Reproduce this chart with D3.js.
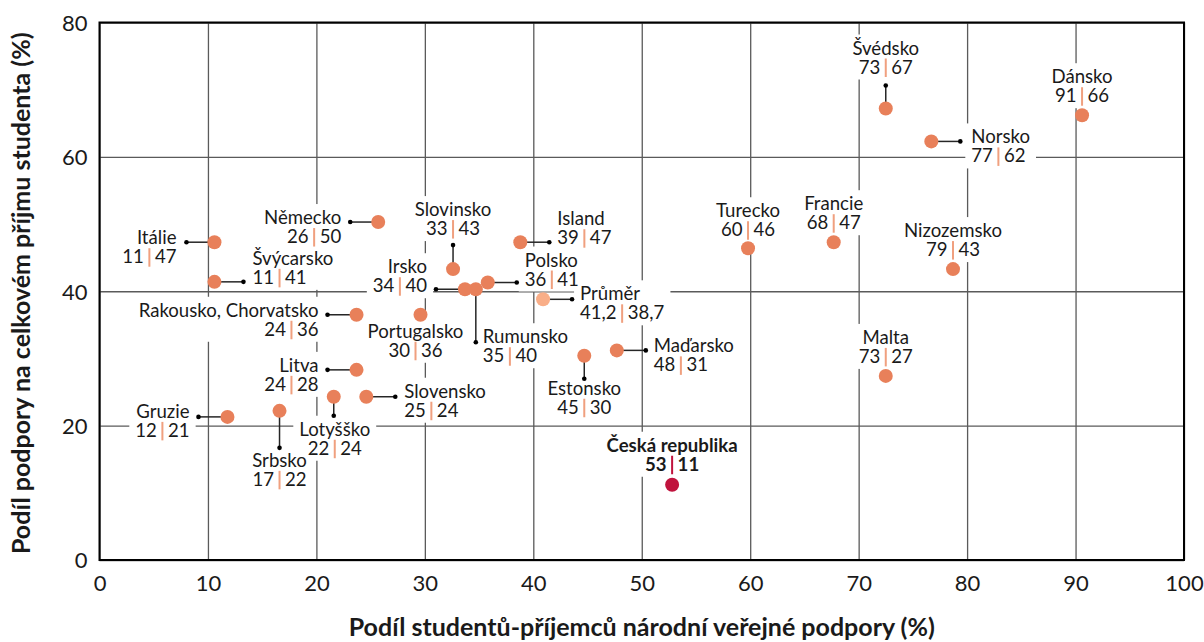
<!DOCTYPE html>
<html>
<head>
<meta charset="utf-8">
<script src="https://cdnjs.cloudflare.com/ajax/libs/d3/7.8.5/d3.min.js"></script>
<style>
  body { margin: 0; background: #fff; }
  text { font-family: Lato, "DejaVu Sans", sans-serif; fill: #1a1a1a; }
</style>
</head>
<body>
<div id="chart"></div>
<script>

// The svg
var width = 1204;
var height = 642;

// data: share of students receiving public support (x), share of support in student income (y)
var countries = ["Švédsko", "Dánsko", "Norsko", "Turecko", "Francie", "Nizozemsko", "Malta",
    "Česká republika", "Maďarsko", "Estonsko", "Průměr", "Island", "Polsko", "Rumunsko", "Irsko",
    "Slovinsko", "Portugalsko", "Německo", "Itálie", "Švýcarsko", "Rakousko, Chorvatsko", "Litva",
    "Slovensko", "Lotyšško", "Srbsko", "Gruzie"];
var studentShare = [72.5, 90.6, 76.7, 59.8, 67.7, 78.7, 72.5,
    52.8, 47.7, 44.7, 40.9, 38.8, 35.8, 34.7, 33.7,
    32.6, 29.6, 25.7, 10.6, 10.6, 23.7, 23.7,
    24.6, 21.6, 16.6, 11.8];
var incomeShare = [67.2, 66.2, 62.3, 46.4, 47.3, 43.3, 27.4,
    11.2, 31.2, 30.4, 38.8, 47.3, 41.3, 40.3, 40.3,
    43.3, 36.5, 50.3, 47.3, 41.4, 36.5, 28.3,
    24.3, 24.3, 22.2, 21.3];
var studentText = ["73", "91", "77", "60", "68", "79", "73",
    "53", "48", "45", "41,2", "39", "36", "35", "34",
    "33", "30", "26", "11", "11", "24", "24",
    "25", "22", "17", "12"];
var incomeText = ["67", "66", "62", "46", "47", "43", "27",
    "11", "31", "30", "38,7", "47", "41", "40", "40",
    "43", "36", "50", "47", "41", "36", "28",
    "24", "24", "22", "21"];
var xTicks = [0, 10, 20, 30, 40, 50, 60, 70, 80, 90, 100];
var yTicks = [0, 20, 40, 60, 80];

// label placement (pixels from the dot): anchor dot a, text t, side
var layout = {
    "Švédsko": { side: "middle", a: [0, -23], t: [0, -54] },
    "Dánsko": { side: "middle", a: null, t: [0, -32] },
    "Norsko": { side: "start", a: [29, 0], t: [40, 2] },
    "Turecko": { side: "middle", a: null, t: [0, -31] },
    "Francie": { side: "middle", a: null, t: [0, -32] },
    "Nizozemsko": { side: "middle", a: null, t: [0, -32] },
    "Malta": { side: "middle", a: null, t: [0, -32] },
    "Česká republika": { side: "middle", a: null, t: [0, -33] },
    "Maďarsko": { side: "start", a: [29, 0], t: [37, 2] },
    "Estonsko": { side: "middle", a: [0, 23], t: [0, 39] },
    "Průměr": { side: "start", a: [29, 0], t: [37, 1] },
    "Island": { side: "start", a: [29, 0], t: [37, -17] },
    "Polsko": { side: "start", a: [29, 0], t: [37, -16] },
    "Rumunsko": { side: "start", a: [0, 53], t: [7, 54] },
    "Irsko": { side: "end", a: [-29, 0], t: [-38, -16] },
    "Slovinsko": { side: "middle", a: [0, -24], t: [0, -53] },
    "Portugalsko": { side: "middle", a: null, t: [-5, 23] },
    "Německo": { side: "end", a: [-28, 0], t: [-37, 2] },
    "Itálie": { side: "end", a: [-28, 0], t: [-38, 2] },
    "Švýcarsko": { side: "start", a: [29, 0], t: [38, -17] },
    "Rakousko, Chorvatsko": { side: "end", a: [-29, 0], t: [-38, 2] },
    "Litva": { side: "end", a: [-29, 0], t: [-38, 2] },
    "Slovensko": { side: "start", a: [29, 0], t: [38, 1] },
    "Lotyšško": { side: "middle", a: [0, 19], t: [1, 39] },
    "Srbsko": { side: "middle", a: [0, 37], t: [0, 56] },
    "Gruzie": { side: "end", a: [-29, 0], t: [-38, 1] }
};

var points = countries.map(function (c, i) {
    return { name: c, x: studentShare[i], y: incomeShare[i], lx: studentText[i], ly: incomeText[i] };
});

var plotLeft = 99.5, plotRight = 1184, plotTop = 22.5, plotBottom = 560;

var x = d3.scaleLinear().domain([0, 100]).range([plotLeft, plotRight]);
var y = d3.scaleLinear().domain([0, 80]).range([plotBottom, plotTop]);

var svg = d3.select("#chart")
    .append("svg")
    .attr("width", width)
    .attr("height", height);

// colours
function dotColor(d) {
    if (d.name == "Česká republika") return "#c0133d";
    if (d.name == "Průměr") return "#f9ae88";
    return "#e8805a";
}
function barColor(d) {
    return d.name == "Česká republika" ? "#c0133d" : "#f0a07f";
}

// gridlines + ticks
var gx = svg.append("g")
    .attr("transform", "translate(0," + plotBottom + ")")
    .call(d3.axisBottom(x).tickValues(xTicks).tickSize(-(plotBottom - plotTop)));
var gy = svg.append("g")
    .attr("transform", "translate(" + plotLeft + ",0)")
    .call(d3.axisLeft(y).tickValues(yTicks).tickSize(-(plotRight - plotLeft)));

[gx, gy].forEach(function (g) {
    g.select(".domain").remove();
    g.selectAll(".tick line").attr("stroke", "#5a5a5a").attr("stroke-width", 1.3);
    g.selectAll(".tick text").style("font-size", "22px").style("font-family", "Lato").attr("fill", "#1a1a1a");
});
gx.selectAll(".tick text").attr("y", 31).attr("dy", 0);
gy.selectAll(".tick text").attr("x", -12).attr("dy", "0.36em");

var gBoxes = svg.append("g");

// frame
svg.append("rect")
    .attr("x", plotLeft).attr("y", plotTop)
    .attr("width", plotRight - plotLeft).attr("height", plotBottom - plotTop)
    .attr("fill", "none").attr("stroke", "#000").attr("stroke-width", 2);

var gLinks = svg.append("g");
var gDots = svg.append("g");
var gTexts = svg.append("g");

// connectors
var linked = points.filter(function (d) { return layout[d.name].a; });
gLinks.selectAll("line")
    .data(linked)
    .enter()
    .append("line")
    .attr("x1", function (d) { return x(d.x) })
    .attr("y1", function (d) { return y(d.y) })
    .attr("x2", function (d) { return x(d.x) + layout[d.name].a[0] })
    .attr("y2", function (d) { return y(d.y) + layout[d.name].a[1] })
    .attr("stroke", "#262626")
    .attr("stroke-width", 1.5);
gLinks.selectAll("circle")
    .data(linked)
    .enter()
    .append("circle")
    .attr("cx", function (d) { return x(d.x) + layout[d.name].a[0] })
    .attr("cy", function (d) { return y(d.y) + layout[d.name].a[1] })
    .attr("r", 2.3)
    .attr("fill", "#000");

// dots
gDots.selectAll("circle")
    .data(points)
    .enter()
    .append("circle")
    .attr("cx", function (d) { return x(d.x) })
    .attr("cy", function (d) { return y(d.y) })
    .attr("r", 7)
    .attr("fill", dotColor);

// labels
var fs = 18.6, lineGap = 19, gap = 4.5, barW = 2;
points.forEach(function (d) {
    var L = layout[d.name];
    var bold = d.name == "Česká republika";
    var px = x(d.x) + L.t[0];
    var py = y(d.y) + L.t[1];
    var g = gTexts.append("g");

    g.append("text")
        .attr("x", px).attr("y", py)
        .attr("text-anchor", L.side)
        .style("font-size", fs + "px")
        .style("font-weight", bold ? "bold" : "normal")
        .text(d.name);

    var tl = g.append("text").attr("y", py + lineGap)
        .style("font-size", fs + "px").style("font-weight", bold ? "bold" : "normal")
        .text(d.lx);
    var tr = g.append("text").attr("y", py + lineGap)
        .style("font-size", fs + "px").style("font-weight", bold ? "bold" : "normal")
        .text(d.ly);
    var wl = tl.node().getComputedTextLength();
    var wr = tr.node().getComputedTextLength();
    var total = wl + wr + 2 * gap + barW;
    var s = px;
    if (L.side == "end") s = px - total;
    if (L.side == "middle") s = px - total / 2;
    tl.attr("x", s);
    tr.attr("x", s + wl + 2 * gap + barW);
    g.append("rect")
        .attr("x", s + wl + gap).attr("y", py + lineGap - 15)
        .attr("width", barW).attr("height", 18.5)
        .attr("fill", barColor(d));

    var bb = g.node().getBBox();
    gBoxes.append("rect")
        .attr("x", bb.x - 6).attr("y", bb.y - 2)
        .attr("width", bb.width + 12).attr("height", bb.height + 4)
        .attr("fill", "#fff");
});

// axis titles
svg.append("text")
    .attr("x", (plotLeft + plotRight) / 2)
    .attr("y", 636)
    .attr("text-anchor", "middle")
    .style("font-size", "25px")
    .style("font-weight", "bold")
    .text("Podíl studentů-příjemců národní veřejné podpory (%)");

svg.append("text")
    .attr("transform", "translate(30," + ((plotTop + plotBottom) / 2 + 2) + ") rotate(-90)")
    .attr("text-anchor", "middle")
    .style("font-size", "25px")
    .style("font-weight", "bold")
    .text("Podíl podpory na celkovém příjmu studenta (%)");

</script>
</body>
</html>
